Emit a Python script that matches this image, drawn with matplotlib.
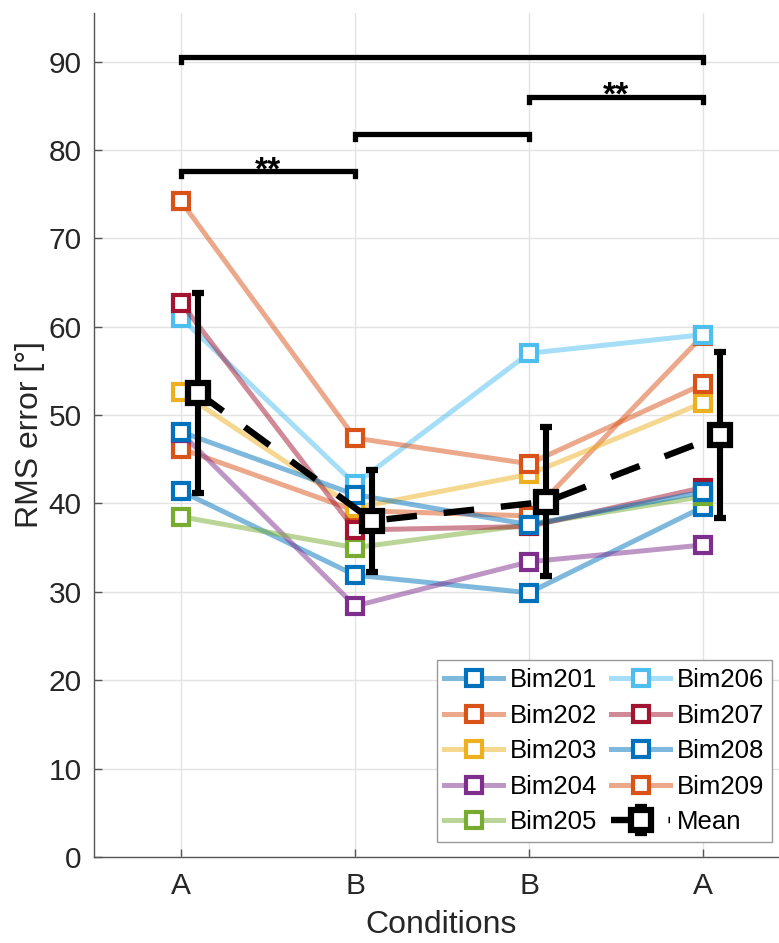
import numpy as np
import matplotlib
matplotlib.use('Agg')
import matplotlib.pyplot as plt

plt.rcParams['font.family'] = ['Liberation Sans', 'DejaVu Sans']

# ── Data ──────────────────────────────────────────────────────────────────────
conditions = ['A', 'B', 'B', 'A']
subjects = ['Bim201', 'Bim202', 'Bim203', 'Bim204', 'Bim205',
            'Bim206', 'Bim207', 'Bim208', 'Bim209']

bim201 = [41.4, 31.9, 29.9, 39.6]
bim202 = [46.2, 39.2, 38.6, 59.0]
bim203 = [52.6, 39.5, 43.3, 51.4]
bim204 = [48.0, 28.4, 33.4, 35.3]
bim205 = [38.5, 35.0, 37.6, 40.8]
bim206 = [61.0, 42.2, 57.0, 59.1]
bim207 = [62.7, 37.0, 37.4, 41.8]
bim208 = [48.1, 41.0, 37.6, 41.3]
bim209 = [74.2, 47.4, 44.5, 53.5]
series = [bim201, bim202, bim203, bim204, bim205,
          bim206, bim207, bim208, bim209]

mean_vals = [52.5, 38.05, 40.2, 47.75]
mean_sd   = [11.3, 5.75, 8.4, 9.35]

# significance brackets: (start, end, height, label)
sig_start  = [1, 2, 3, 1]
sig_end    = [2, 3, 4, 4]
sig_height = [77.6, 81.8, 86.0, 90.5]
sig_label  = ['**', '', '**', '']

# MATLAB default colour order
colors = ['#0072BD', '#D95319', '#EDB120', '#7E2F8E', '#77AC30',
          '#4DBEEE', '#A2142F', '#0072BD', '#D95319']

# ── Figure ────────────────────────────────────────────────────────────────────
TXT = '#262626'
fig = plt.figure(figsize=(7.79, 9.43), dpi=100, facecolor='white')
ax = fig.add_axes([94 / 779, 86 / 943, 696 / 779, 844 / 943])

x = np.arange(1, 5)
for vals, col, name in zip(series, colors, subjects):
    rgb = matplotlib.colors.to_rgb(col)
    ax.plot(x, vals, color=(*rgb, 0.5), lw=3.6, marker='s', ms=11.5,
            mew=3.0, mec=col, mfc='white', label=name, zorder=3)

ax.errorbar(x + 0.1, mean_vals, yerr=mean_sd, fmt='s', ls=(0, (4.8, 4.2)),
            color='black', lw=4.6, ms=15, mew=4.5, mfc='white',
            elinewidth=4.4, capsize=4.3, capthick=5.8, label='Mean', zorder=5)

# ── Significance brackets ─────────────────────────────────────────────────────
drop = 0.6
for s, e, h, lab in zip(sig_start, sig_end, sig_height, sig_label):
    ax.plot([s, s, e, e], [h - drop, h, h, h - drop], color='black',
            lw=3.8, solid_joinstyle='miter', clip_on=False, zorder=6)
    if lab:
        ax.text((s + e) / 2, h - 0.9, lab, ha='center', va='baseline',
                fontsize=24, fontweight='bold', color='black', zorder=6)

# ── Axes styling ──────────────────────────────────────────────────────────────
ax.set_xlim(0.5, 4.5)
ax.set_ylim(0, 95.5)
ax.set_xticks(x)
ax.set_xticklabels(conditions)
ax.set_yticks(np.arange(0, 91, 10))
ax.tick_params(direction='in', length=6, width=1, colors='#555555',
               labelcolor=TXT, labelsize=21.5, pad=9)
ax.tick_params(axis='x', pad=11)
ax.grid(True, color='#e3e3e3', lw=1.0, zorder=0)
ax.set_axisbelow(True)
for side in ('top', 'right'):
    ax.spines[side].set_visible(False)
for side in ('left', 'bottom'):
    ax.spines[side].set_color('#555555')
    ax.spines[side].set_linewidth(1.0)

ax.set_xlabel('Conditions', fontsize=23, color=TXT, va='center')
ax.set_ylabel('RMS error [°]', fontsize=23, color=TXT, va='center')
ax.yaxis.set_label_coords(-0.092, 0.5)
ax.xaxis.set_label_coords(0.499, -0.081)

leg = ax.legend(ncol=2, loc='lower right', fontsize=18.5,
                bbox_to_anchor=(772 / 779, 101 / 943),
                bbox_transform=fig.transFigure, fancybox=False,
                edgecolor='#999999', framealpha=1, borderpad=0.3,
                handlelength=2.3, handletextpad=0.25, columnspacing=0.55,
                labelspacing=0.45, borderaxespad=0)
leg.get_frame().set_linewidth(1.0)

fig.savefig('out.png', dpi=100, facecolor='white')
